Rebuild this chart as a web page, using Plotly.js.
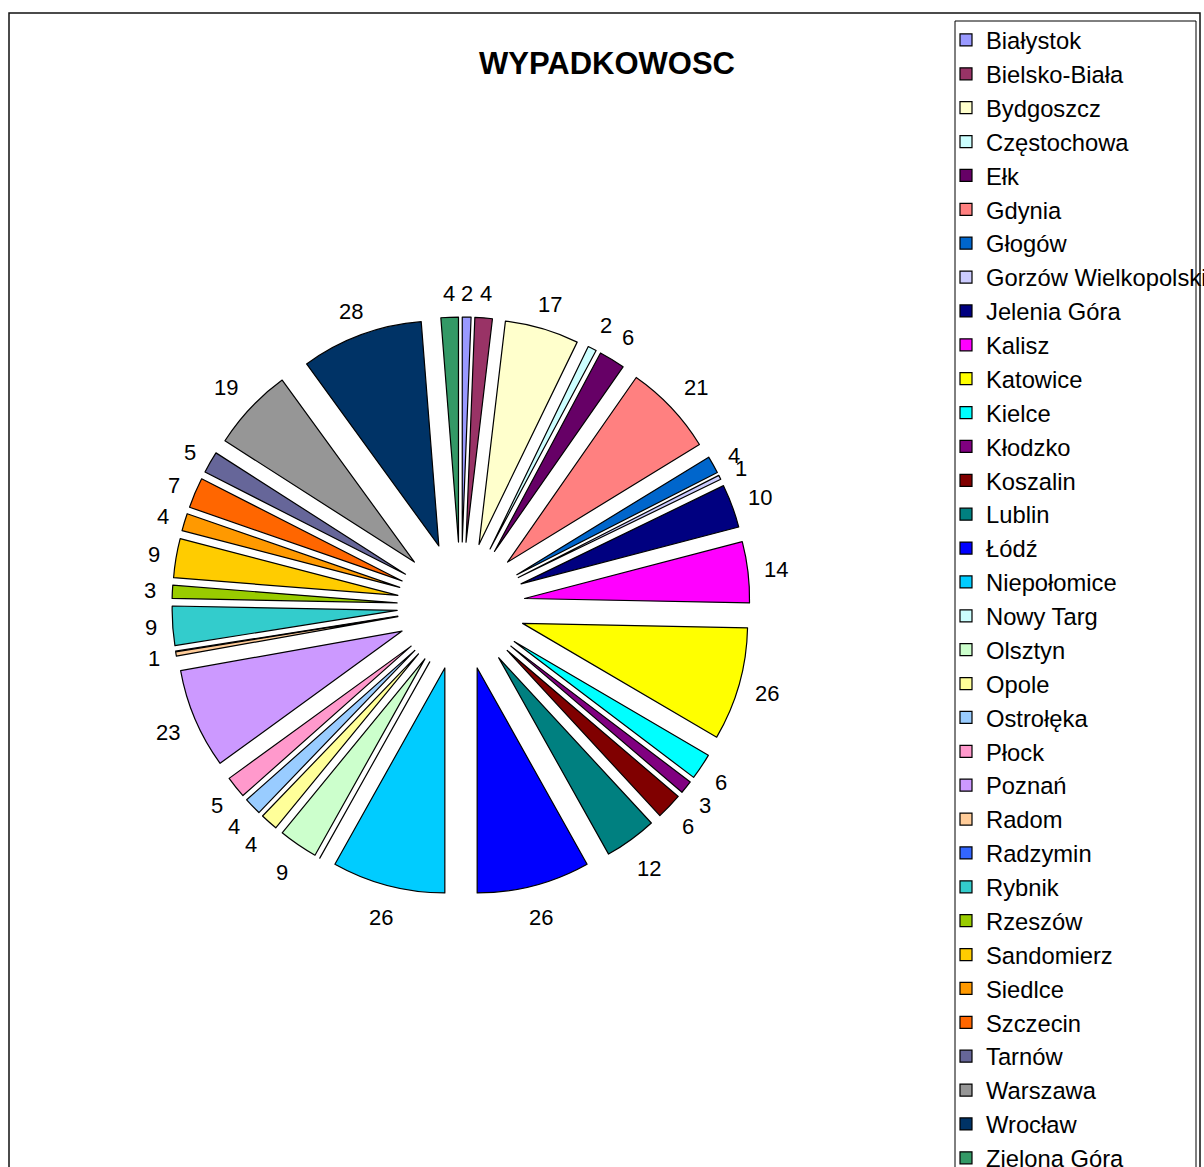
<!DOCTYPE html>
<html>
<head>
<meta charset="utf-8">
<script src="https://cdn.plot.ly/plotly-3.0.1.min.js"></script>
<style>
html,body{margin:0;padding:0;background:#fff;overflow:hidden;}
#chart{width:1204px;height:1167px;}
#chart .scrollbar{display:none !important;}
</style>
</head>
<body>
<div id="chart"></div>
<script>
const cities = ["Białystok","Bielsko-Biała","Bydgoszcz","Częstochowa","Ełk","Gdynia","Głogów","Gorzów Wielkopolski","Jelenia Góra","Kalisz","Katowice","Kielce","Kłodzko","Koszalin","Lublin","Łódź","Niepołomice","Nowy Targ","Olsztyn","Opole","Ostrołęka","Płock","Poznań","Radom","Radzymin","Rybnik","Rzeszów","Sandomierz","Siedlce","Szczecin","Tarnów","Warszawa","Wrocław","Zielona Góra"];
const accidents = [2,4,17,2,6,21,4,1,10,14,26,6,3,6,12,26,26,0,9,4,4,5,23,1,0,9,3,9,4,7,5,19,28,4];
const sliceColors = ["#9999FF","#993366","#FFFFCC","#CCFFFF","#660066","#FF8080","#0066CC","#CCCCFF","#000080","#FF00FF","#FFFF00","#00FFFF","#800080","#800000","#008080","#0000FF","#00CCFF","#CCFFFF","#CCFFCC","#FFFF99","#99CCFF","#FF99CC","#CC99FF","#FFCC99","#3366FF","#33CCCC","#99CC00","#FFCC00","#FF9900","#FF6600","#666699","#969696","#003366","#339966"];
const chartTitle = "WYPADKOWOSC";

const W = 1204, H = 1167;
const FONT = "Liberation Sans, Arial, Helvetica, sans-serif";
const LABEL_SIZE = 22;

// pie geometry (pixels)
const CX = 461, CY = 606, R = 225, PULL_PX = 64, LABEL_GAP = 13;
const half = R + PULL_PX;

const pieTrace = {
  type: "pie",
  labels: cities,
  values: accidents,
  textinfo: "none",
  sort: false,
  direction: "clockwise",
  rotation: 0,
  pull: PULL_PX / R,
  marker: {colors: sliceColors, line: {color: "#000", width: 1.2}},
  domain: {x: [(CX - half) / W, (CX + half) / W], y: [(H - (CY + half)) / H, (H - (CY - half)) / H]},
  hoverinfo: "label+value",
  showlegend: true
};

// Excel-style "outside end" data labels, placed from the slice angles
const total = accidents.reduce((a, b) => a + b, 0);
const annotations = [];
let cum = 0;
accidents.forEach((v) => {
  const mid = (cum + v / 2) / total * 2 * Math.PI;
  cum += v;
  if (v <= 0) return;
  const dx = Math.sin(mid), dy = -Math.cos(mid);
  const sx = CX + PULL_PX * dx, sy = CY + PULL_PX * dy;
  const ax = sx + (R + LABEL_GAP) * dx, ay = sy + (R + LABEL_GAP) * dy;
  const txt = String(v);
  const w = txt.length * 0.556 * LABEL_SIZE + 6, h = LABEL_SIZE + 8;
  const t = Math.min(Math.abs(dx) > 1e-6 ? (w / 2) / Math.abs(dx) : 1e9,
                     Math.abs(dy) > 1e-6 ? (h / 2) / Math.abs(dy) : 1e9);
  const px = ax + dx * t, py = ay + dy * t + 4 * Math.abs(dy);
  annotations.push({
    x: px / W, y: 1 - py / H, xref: "paper", yref: "paper",
    text: txt, showarrow: false, xanchor: "center", yanchor: "middle",
    font: {family: FONT, size: LABEL_SIZE, color: "#000"}
  });
});

const layout = {
  width: W, height: H,
  margin: {l: 0, r: 0, t: 0, b: 0, autoexpand: false},
  paper_bgcolor: "#fff",
  font: {family: FONT, color: "#000"},
  title: {
    text: "<b>" + chartTitle + "</b>",
    font: {family: FONT, size: 31, color: "#000"},
    x: 607/W, xanchor: "center", xref: "paper",
    y: 1 - 63/H, yanchor: "middle", yref: "container"
  },
  legend: {
    x: 946/W, xanchor: "left",
    y: 1 - 18/H, yanchor: "top",
    bgcolor: "rgba(0,0,0,0)",
    borderwidth: 0,
    font: {family: FONT, size: 23.75, color: "#000"},
    maxheight: 3000,
    traceorder: "normal"
  },
  annotations: annotations,
  shapes: [
    {type: "rect", xref: "paper", yref: "paper", x0: 9/W, x1: 1200/W, y0: -0.2, y1: 1 - 13/H,
     line: {color: "#111", width: 1.5}, fillcolor: "rgba(0,0,0,0)", layer: "below"},
    {type: "rect", xref: "paper", yref: "paper", x0: 955/W, x1: 1196/W, y0: -0.2, y1: 1 - 21/H,
     line: {color: "#000", width: 1}, fillcolor: "rgba(0,0,0,0)", layer: "below"}
  ]
};

Plotly.newPlot("chart", [pieTrace], layout, {displayModeBar: false, staticPlot: true});
</script>
</body>
</html>
